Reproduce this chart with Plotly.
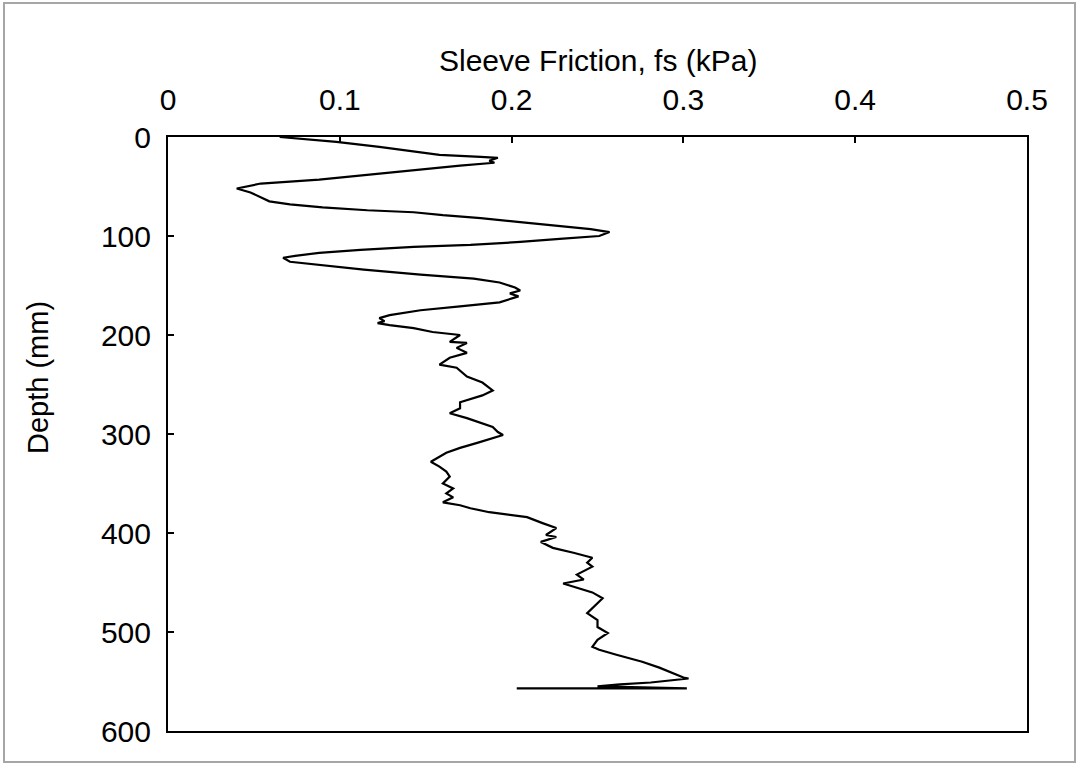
import plotly.graph_objects as go

# Sleeve friction (kPa) vs depth (mm)
fs_kpa = [
    0.065, 0.077, 0.098, 0.123, 0.158, 0.182, 0.192, 0.187, 0.190, 0.170,
    0.131, 0.088, 0.054, 0.040, 0.048, 0.055, 0.059, 0.071, 0.090, 0.116,
    0.143, 0.160, 0.182, 0.205, 0.228, 0.246, 0.257, 0.251, 0.228, 0.205,
    0.176, 0.143, 0.112, 0.088, 0.074, 0.067, 0.071, 0.088, 0.114, 0.147,
    0.178, 0.193, 0.202, 0.205, 0.199, 0.204, 0.193, 0.170, 0.147, 0.129,
    0.123, 0.126, 0.122, 0.129, 0.143, 0.154, 0.170, 0.164, 0.174, 0.168,
    0.174, 0.164, 0.158, 0.168, 0.174, 0.183, 0.189, 0.183, 0.170, 0.170,
    0.164, 0.174, 0.183, 0.189, 0.192, 0.195, 0.180, 0.170, 0.162, 0.153,
    0.158, 0.162, 0.164, 0.160, 0.166, 0.162, 0.166, 0.160, 0.170, 0.176,
    0.187, 0.209, 0.218, 0.226, 0.220, 0.226, 0.217, 0.224, 0.236, 0.247,
    0.244, 0.247, 0.238, 0.242, 0.230, 0.240, 0.247, 0.253, 0.247, 0.244,
    0.250, 0.250, 0.256, 0.250, 0.247, 0.251, 0.261, 0.276, 0.286, 0.300,
    0.303, 0.281, 0.263, 0.250, 0.302, 0.203,
]
depth_mm = [
    0, 2, 5, 10, 18, 20, 21, 24, 26, 29,
    36, 43, 47, 52, 56, 62, 65, 68, 71, 74,
    76, 79, 82, 86, 90, 93, 96, 100, 103, 106,
    109, 111, 114, 117, 120, 122, 126, 129, 134, 139,
    143, 147, 152, 155, 158, 161, 167, 171, 175, 180,
    183, 186, 188, 190, 193, 197, 200, 207, 208, 213,
    218, 223, 230, 233, 242, 248, 256, 261, 268, 274,
    279, 284, 289, 293, 298, 301, 309, 314, 319, 328,
    333, 338, 343, 350, 355, 360, 364, 369, 372, 375,
    379, 384, 390, 395, 402, 404, 409, 415, 420, 425,
    430, 434, 442, 447, 451, 456, 460, 466, 476, 481,
    488, 495, 501, 508, 515, 518, 523, 530, 536, 546,
    547, 551, 553, 555, 557, 557,
]

x_ticks = [0, 0.1, 0.2, 0.3, 0.4, 0.5]
x_tick_labels = ["0", "0.1", "0.2", "0.3", "0.4", "0.5"]
y_ticks = [0, 100, 200, 300, 400, 500, 600]
x_title = "Sleeve Friction, fs (kPa)"
y_title = "Depth (mm)"

FONT = "Liberation Sans, Arial, sans-serif"

fig = go.Figure()
fig.add_trace(go.Scatter(
    x=fs_kpa, y=depth_mm, mode="lines",
    line=dict(color="black", width=2.2),
    showlegend=False, hoverinfo="skip",
))

W, H = 1079, 765
L, R, T, B = 168, 52, 137, 34
pw, ph = W - L - R, H - T - B

fig.update_layout(
    width=W, height=H,
    margin=dict(l=L, r=R, t=T, b=B, pad=0),
    paper_bgcolor="white", plot_bgcolor="white",
    font=dict(family=FONT, size=30, color="black"),
    xaxis=dict(
        side="top", range=[0, 0.5], tickvals=x_ticks, ticktext=x_tick_labels,
        ticks="inside", ticklen=6, tickwidth=1.5, tickcolor="black",
        showline=True, linecolor="black", linewidth=2, mirror=True,
        showgrid=False, zeroline=False,
        ticklabelstandoff=13,
    ),
    yaxis=dict(
        range=[600, 0], tickvals=y_ticks,
        ticks="inside", ticklen=6, tickwidth=1.5, tickcolor="black",
        showline=True, linecolor="black", linewidth=2, mirror=True,
        showgrid=False, zeroline=False,
        ticklabelstandoff=9,
    ),
)

# axis titles placed as in the reference
fig.add_annotation(text=x_title, xref="paper", yref="paper",
                   x=0.5, y=(T + ph - 60) / ph, xanchor="center", yanchor="middle",
                   showarrow=False, font=dict(size=30))
fig.add_annotation(text=y_title, xref="paper", yref="paper",
                   x=(38 - L) / pw, y=(T + ph - 378) / ph, xanchor="center", yanchor="middle",
                   textangle=-90, showarrow=False, font=dict(size=29))

# outer gray frame of the picture
x0 = (4 - L) / pw
x1 = (W - 4 - L) / pw
y0 = -(H - 3 - (T + ph)) / ph
y1 = 1 + (T - 3) / ph
fig.add_shape(type="rect", xref="paper", yref="paper",
              x0=x0, x1=x1, y0=y0, y1=y1,
              line=dict(color="#a6a6a6", width=2), layer="below")

fig.write_html("out.html")
